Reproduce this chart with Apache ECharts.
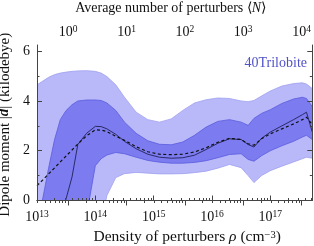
<!DOCTYPE html>
<html><head><meta charset="utf-8">
<script src="https://cdn.jsdelivr.net/npm/echarts@6/dist/echarts.min.js"></script>
<style>html,body{margin:0;padding:0;background:#fff}#c{width:314px;height:246px}</style>
</head><body><div id="c"></div>
<script>
// Density of perturbers rho (cm^-3)
const densities = [1.00e13, 1.26e13, 1.58e13, 2.00e13, 2.51e13, 3.16e13, 3.98e13, 5.01e13, 7.08e13,
  1.00e14, 1.26e14, 1.58e14, 2.24e14, 3.16e14, 5.01e14, 7.94e14, 1.26e15, 2.00e15, 3.16e15, 5.01e15,
  7.94e15, 1.26e16, 2.00e16, 3.16e16, 4.17e16, 5.25e16, 7.08e16, 1.00e17, 1.58e17, 2.51e17, 3.55e17,
  4.17e17, 5.25e17];
// Dipole moment |d| (kilodebye)
const outerUpper = [4.65, 4.80, 4.95, 5.06, 5.12, 5.16, 5.19, 5.21, 5.22, 5.19, 5.12, 4.98, 4.65, 4.15, 3.55,
  3.25, 3.15, 3.28, 3.62, 3.92, 4.05, 4.12, 4.10, 4.00, 3.97, 4.02, 4.20, 4.40, 4.60, 4.70, 4.73, 4.68, 4.50];
const outerLower = [-3.0, -3.0, -3.0, -3.0, -3.0, -3.0, -3.0, -2.8, -2.5, -1.6, -0.9, 0.2, 0.92, 1.08, 1.13,
  1.10, 1.07, 1.07, 1.08, 1.12, 1.18, 1.30, 1.45, 1.32, 1.00, 0.72, 1.00, 1.20, 1.38, 1.55, 1.68, 1.74, 1.70];
const innerUpper = [-1.0, 0.1, 1.3, 2.45, 3.25, 3.62, 3.85, 4.00, 4.04, 4.04, 4.02, 3.92, 3.62, 3.15, 2.70,
  2.40, 2.26, 2.24, 2.35, 2.62, 2.95, 3.18, 3.25, 3.15, 3.02, 3.30, 3.50, 3.65, 3.90, 4.08, 4.15, 4.10, 3.78];
const innerLower = [-4.0, -4.0, -4.0, -3.8, -3.5, -3.0, -2.4, -1.6, -0.6, 1.40, 1.68, 1.83, 1.93, 1.88, 1.74,
  1.61, 1.54, 1.50, 1.50, 1.53, 1.60, 1.72, 1.85, 1.88, 1.65, 1.58, 1.80, 2.00, 2.20, 2.38, 2.55, 2.62, 2.45];
const medianLine = [-3.0, -3.0, -3.0, -2.5, -0.8, 0.08, 0.94, 2.25, 2.70, 2.98, 2.97, 2.88, 2.66, 2.38, 2.08,
  1.86, 1.74, 1.70, 1.72, 1.82, 2.05, 2.30, 2.48, 2.45, 2.25, 2.15, 2.50, 2.75, 3.00, 3.25, 3.45, 3.55, 2.75];
const meanLine = [0.60, 0.83, 1.07, 1.31, 1.55, 1.79, 2.03, 2.27, 2.60, 2.84, 2.83, 2.77, 2.58, 2.42, 2.16,
  1.96, 1.86, 1.84, 1.86, 1.95, 2.12, 2.34, 2.50, 2.45, 2.28, 2.22, 2.48, 2.68, 2.88, 3.08, 3.25, 3.35, 3.05];

// Axis ranges and ticks
const rhoMin = 1e13, rhoMax = 5.25e17;
const nPerRho = 1 / 3.43e13;
const bottomMajor = [1e13, 1e14, 1e15, 1e16, 1e17];
const topMajor = [1, 10, 100, 1000, 10000];
const yMajor = [0, 2, 4, 6];
const yMinor = [1, 3, 5];
const bottomMinor = [], topMinor = [];
for (let k = 13; k <= 17; k++) for (let m = 2; m <= 9; m++) { const v = m * Math.pow(10, k); if (v <= rhoMax) bottomMinor.push(v); }
for (let k = -1; k <= 4; k++) for (let m = 2; m <= 9; m++) { const v = m * Math.pow(10, k); if (v >= rhoMin * nPerRho && v <= rhoMax * nPerRho) topMinor.push(v); }

const FONT = 'Liberation Serif';
const AX = '#444';
const LIGHT = '#b9b9fa', LIGHT_EDGE = '#a0a0f0';
const MID = '#7c7cf0', MID_EDGE = '#5a5add';

const supRich = {
  b: { fontFamily: FONT, fontSize: 14, color: '#111', lineHeight: 16 },
  s: { fontFamily: FONT, fontSize: 9.5, color: '#111', lineHeight: 10, verticalAlign: 'top' }
};
const powFmt = v => '{b|10}{s|' + Math.round(Math.log10(v)) + '}';

function pts(arr) { return densities.map((d, i) => [d, arr[i]]); }

function bandSeries(lo, hi, fill, edge, z) {
  return {
    type: 'custom', clip: true, z: z,
    data: densities.map((d, i) => [d, lo[i], hi[i]]),
    encode: { x: 0, y: [1, 2] },
    renderItem: function (params, api) {
      if (params.dataIndex !== 0) return null;
      const up = densities.map((d, i) => api.coord([d, hi[i]]));
      const dn = densities.map((d, i) => api.coord([d, lo[i]]));
      return {
        type: 'group',
        children: [
          { type: 'polygon', shape: { points: up.concat(dn.slice().reverse()) }, style: { fill: fill, stroke: null } },
          { type: 'polyline', shape: { points: up }, style: { fill: null, stroke: edge, lineWidth: 0.8 } },
          { type: 'polyline', shape: { points: dn }, style: { fill: null, stroke: edge, lineWidth: 0.8 } }
        ]
      };
    }
  };
}

const chart = echarts.init(document.getElementById('c'), null, { renderer: 'canvas' });
chart.setOption({
  animation: false,
  backgroundColor: '#fff',
  textStyle: { fontFamily: FONT },
  graphic: [{
    type: 'text', right: 7, top: 56, z: 20,
    style: { text: '40Trilobite', fontFamily: FONT, fontSize: 14, fill: '#5252c8' }
  }],
  grid: { left: 37, right: 1.7, top: 45, bottom: 45.5, containLabel: false, outerBoundsMode: 'none' },
  xAxis: [
    {
      type: 'log', logBase: 10, min: rhoMin, max: rhoMax, position: 'bottom', z: 10,
      axisLine: { show: true, lineStyle: { color: AX, width: 1 } },
      axisTick: { show: true, inside: true, length: 5, customValues: bottomMajor, lineStyle: { color: AX } },
      axisLabel: { customValues: bottomMajor, formatter: powFmt, rich: supRich, margin: 9 },
      splitLine: { show: false }, minorTick: { show: false },
      name: 'Density of perturbers {i|ρ} (cm{s|−3})', nameLocation: 'middle', nameGap: 28,
      nameTextStyle: { fontFamily: FONT, fontSize: 15.5, color: '#111', padding: [0, 0, 0, 25],
        rich: { i: { fontFamily: FONT, fontStyle: 'italic', fontSize: 15.5, color: '#111' },
                s: { fontFamily: FONT, fontSize: 10.5, color: '#111', verticalAlign: 'top', lineHeight: 10 } } }
    },
    {
      type: 'log', logBase: 10, min: rhoMin * nPerRho, max: rhoMax * nPerRho, position: 'top', z: 10,
      axisLine: { show: true, lineStyle: { color: AX, width: 1 } },
      axisTick: { show: true, inside: true, length: 5, customValues: topMajor, lineStyle: { color: AX } },
      axisLabel: { customValues: topMajor, formatter: powFmt, rich: supRich, margin: 5 },
      splitLine: { show: false },
      name: 'Average number of perturbers ⟨{i|N}⟩', nameLocation: 'middle', nameGap: 30,
      nameTextStyle: { fontFamily: FONT, fontSize: 14, color: '#111', padding: [0, 8, 0, 0],
        rich: { i: { fontFamily: FONT, fontStyle: 'italic', fontSize: 14, color: '#111' } } }
    },
    {
      type: 'log', logBase: 10, min: rhoMin, max: rhoMax, position: 'bottom', z: 10,
      axisLine: { show: false },
      axisTick: { show: true, inside: true, length: 2.5, customValues: bottomMinor, lineStyle: { color: AX } },
      axisLabel: { show: false }, splitLine: { show: false }
    },
    {
      type: 'log', logBase: 10, min: rhoMin * nPerRho, max: rhoMax * nPerRho, position: 'top', z: 10,
      axisLine: { show: false },
      axisTick: { show: true, inside: true, length: 2.5, customValues: topMinor, lineStyle: { color: AX } },
      axisLabel: { show: false }, splitLine: { show: false }
    }
  ],
  yAxis: [
    {
      type: 'value', min: 0, max: 6.25, position: 'left', z: 10,
      axisLine: { show: true, lineStyle: { color: AX, width: 1 } },
      axisTick: { show: true, inside: true, length: 5, customValues: yMajor, lineStyle: { color: AX } },
      axisLabel: { customValues: yMajor, fontFamily: FONT, fontSize: 14, color: '#111', margin: 7 },
      splitLine: { show: false },
      name: 'Dipole moment |{b|d}| (kilodebye)', nameLocation: 'middle', nameGap: 21, nameRotate: 90,
      nameTextStyle: { fontFamily: FONT, fontSize: 15, color: '#111', padding: [0, 4, 0, 0],
        rich: { b: { fontFamily: FONT, fontStyle: 'italic', fontWeight: 'bold', fontSize: 15, color: '#111' } } }
    },
    {
      type: 'value', min: 0, max: 6.25, position: 'left', z: 10,
      axisLine: { show: false },
      axisTick: { show: true, inside: true, length: 2.5, customValues: yMinor, lineStyle: { color: AX } },
      axisLabel: { show: false }, splitLine: { show: false }
    },
    {
      type: 'value', min: 0, max: 6.25, position: 'right', z: 10,
      axisLine: { show: true, lineStyle: { color: AX, width: 1 } },
      axisTick: { show: true, inside: true, length: 5, customValues: yMajor, lineStyle: { color: AX } },
      axisLabel: { show: false }, splitLine: { show: false }
    },
    {
      type: 'value', min: 0, max: 6.25, position: 'right', z: 10,
      axisLine: { show: false },
      axisTick: { show: true, inside: true, length: 2.5, customValues: yMinor, lineStyle: { color: AX } },
      axisLabel: { show: false }, splitLine: { show: false }
    }
  ],
  series: [
    bandSeries(outerLower, outerUpper, LIGHT, LIGHT_EDGE, 1),
    bandSeries(innerLower, innerUpper, MID, MID_EDGE, 2),
    { type: 'line', data: pts(medianLine), symbol: 'none', clip: true,
      lineStyle: { color: '#2a2a66', width: 1 }, z: 3 },
    { type: 'line', data: pts(meanLine), symbol: 'none', clip: true,
      lineStyle: { color: '#111', width: 1.2, type: [3, 2.5] }, z: 4 }
  ]
});
</script></body></html>
